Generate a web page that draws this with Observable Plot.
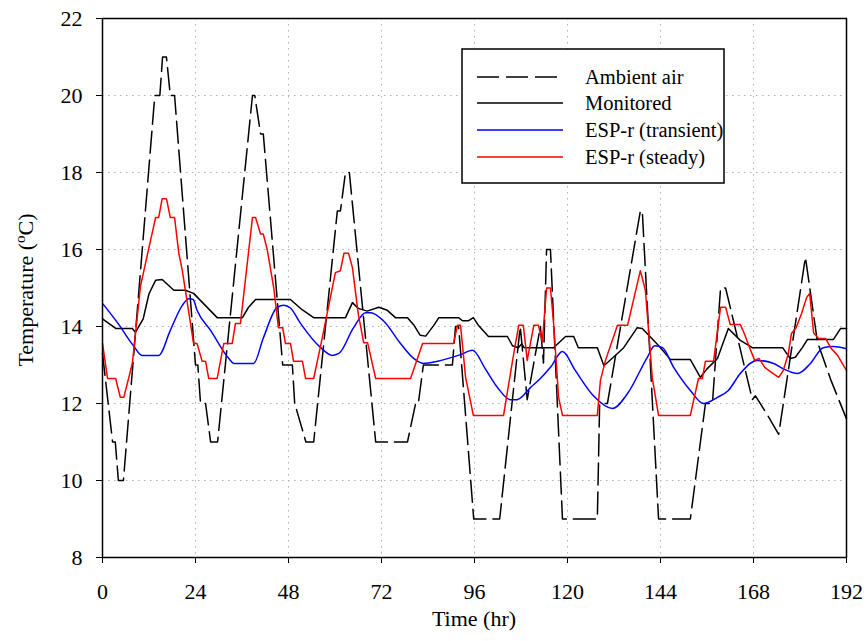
<!DOCTYPE html>
<html>
<head>
<meta charset="utf-8">
<script src="https://cdn.jsdelivr.net/npm/d3@7"></script>
<script src="https://cdn.jsdelivr.net/npm/@observablehq/plot@0.6"></script>
<style>
  html, body { margin: 0; padding: 0; background: #fff; }
  #chart svg { display: block; }
</style>
</head>
<body>
<div id="chart"></div>
<script>
// ---- data (hours, °C) ----
const xTicks = [0, 24, 48, 72, 96, 120, 144, 168, 192];
const yTicks = [8, 10, 12, 14, 16, 18, 20, 22];
const seriesNames = ["Ambient air", "Monitored", "ESP-r (transient)", "ESP-r (steady)"];

const ambientHr = [0, 2.6, 3.3, 4.1, 5.4, 13.5, 14.8, 15.5, 16.5, 17.5, 18.6, 24, 24.6, 25.3, 26.6, 27.9, 29.7, 38.7, 39.3, 40.8, 41.5, 46.5, 49, 49.6, 52.5, 54.5, 60.6, 61.4, 62.7, 63.7, 70.5, 78.7, 80.8, 81.5, 82.8, 90.3, 91.1, 91.9, 95.8, 102.5, 107.8, 109.6, 113, 113.8, 114.6, 115.6, 118.7, 127.7, 128.3, 130.3, 138.8, 139.3, 143.5, 151.7, 155.6, 157.4, 159.5, 160.8, 167.7, 168.5, 171.6, 174.5, 181.4, 184.5, 188, 192];
const ambientT  = [13.3, 11.0, 11.0, 10.0, 10.0, 20, 20, 21, 21, 20, 20, 13, 13, 12, 12, 11, 11, 20, 20, 19, 19, 13, 13, 12, 11, 11, 17, 17, 18, 18, 11, 11, 12, 12, 13, 13, 14, 14, 9, 9, 14, 12.1, 14, 13.05, 16, 16, 9, 9, 12, 12, 17, 17, 9, 9, 12, 12, 15, 15, 12.1, 12.2, 11.7, 11.2, 15.8, 13.6, 12.6, 11.6];

const monitoredHr = [0, 3.4, 7.7, 8.5, 10.5, 12, 13.7, 15.4, 18.4, 21.4, 23.5, 29.6, 36.1, 37.7, 39.5, 48.5, 51.6, 54.5, 62.7, 64.5, 66, 68.3, 71.3, 73.5, 75.6, 78.7, 80.4, 82, 83.4, 85.5, 86.8, 91.9, 92.9, 94.5, 95.7, 97, 99.6, 104.5, 105.8, 107.3, 108.2, 108.8, 116.4, 119.5, 121.6, 122.8, 127.7, 129.4, 132.9, 134.5, 138, 139.3, 143, 144, 146.6, 151.7, 154.3, 156, 158.7, 161.5, 164.6, 167.7, 175.5, 177.5, 178.8, 180.6, 181.9, 188.6, 190.5, 192];
const monitoredT  = [14.2, 13.95, 13.95, 13.85, 14.2, 14.85, 15.2, 15.22, 14.94, 14.94, 14.86, 14.23, 14.23, 14.5, 14.7, 14.7, 14.43, 14.23, 14.23, 14.62, 14.47, 14.4, 14.5, 14.42, 14.23, 14.23, 14.03, 13.77, 13.75, 14.03, 14.23, 14.23, 14.15, 14.15, 14.23, 14.03, 13.74, 13.74, 13.5, 13.45, 13.55, 13.45, 13.45, 13.74, 13.74, 13.45, 13.45, 12.98, 13.3, 13.45, 13.97, 13.95, 13.56, 13.45, 13.14, 13.14, 12.68, 12.9, 13.17, 13.95, 13.64, 13.45, 13.45, 13.17, 13.2, 13.45, 13.66, 13.66, 13.95, 13.95];

const transientHr = [0, 4, 8, 10.2, 14.5, 17.5, 20.6, 22.3, 23.4, 24.4, 27.9, 32.6, 33.9, 39, 41.5, 45.1, 46.8, 48.5, 51.1, 56.3, 59.3, 61, 64.8, 67.9, 69.2, 72.5, 76.9, 80.3, 82.8, 86.5, 92.4, 95.5, 98.8, 101.9, 105.3, 107, 110.5, 113, 115.6, 118.7, 122, 126.7, 131.6, 135.5, 140.6, 142.5, 144.5, 147.4, 151.7, 155.1, 158.7, 161.5, 164.6, 169, 173.2, 175.7, 179.4, 182.7, 186, 188.6, 192];
const transientT  = [14.6, 14.08, 13.5, 13.25, 13.25, 13.9, 14.55, 14.72, 14.7, 14.42, 13.9, 13.17, 13.04, 13.04, 13.7, 14.5, 14.55, 14.48, 14.08, 13.45, 13.25, 13.3, 13.97, 14.36, 14.36, 14.15, 13.56, 13.17, 13.04, 13.1, 13.27, 13.38, 12.9, 12.42, 12.1, 12.1, 12.42, 12.65, 12.94, 13.35, 12.86, 12.2, 11.87, 12.26, 13.2, 13.5, 13.45, 12.94, 12.34, 12.0, 12.16, 12.34, 12.78, 13.12, 13.04, 12.9, 12.78, 13.04, 13.45, 13.48, 13.42];

const steadyHr = [0, 1.3, 3.4, 4.6, 5.5, 7.7, 9.8, 13.7, 14.5, 15.4, 16.5, 17.5, 18.6, 19.7, 20.6, 23.5, 24.4, 25.7, 26.6, 27.4, 29.6, 31.3, 33.5, 34.3, 35.6, 38.7, 39.5, 40.8, 41.5, 42.5, 44.2, 45.4, 46.5, 47.2, 48.5, 49.3, 51.6, 52.4, 54.5, 56.7, 60.1, 61.4, 62.3, 63.5, 64.5, 66, 67.4, 68.4, 70.5, 79.5, 82.6, 90.6, 91.6, 92.4, 93.7, 95.7, 103.5, 105.8, 107.4, 108.6, 109.6, 111.3, 112.5, 113.5, 114.6, 115.6, 116.4, 117.7, 118.7, 127.7, 128.5, 129.8, 132.9, 135.5, 138.8, 140.1, 141.9, 143.5, 151.7, 153.8, 154.8, 155.6, 157.7, 159.5, 160.8, 162, 164.6, 165.7, 166.8, 168.3, 169.4, 170.9, 172.7, 174.5, 175.7, 177, 177.8, 179, 180.4, 181.7, 182.5, 183.5, 184.8, 186.6, 187.9, 189.7, 191.2, 192];
const steadyT  = [13.56, 12.65, 12.65, 12.16, 12.16, 13.04, 15.05, 16.83, 16.83, 17.32, 17.32, 16.83, 16.83, 15.9, 15.45, 13.56, 13.56, 13.1, 13.1, 12.65, 12.65, 13.56, 13.56, 14.08, 14.08, 16.83, 16.83, 16.4, 16.4, 16.0, 15.0, 13.97, 13.97, 13.56, 13.56, 13.1, 13.1, 12.65, 12.65, 13.7, 15.4, 15.45, 15.9, 15.9, 15.53, 14.33, 13.58, 13.58, 12.65, 12.65, 13.56, 13.56, 14.03, 14.03, 12.68, 11.69, 11.69, 13.1, 14.03, 14.03, 13.12, 14.03, 14.03, 13.6, 15.0, 15.0, 14.1, 12.16, 11.69, 11.69, 12.6, 13.12, 14.03, 14.03, 15.45, 14.94, 12.65, 11.69, 11.69, 12.65, 12.65, 13.1, 13.1, 14.5, 14.5, 14.05, 14.05, 13.8, 13.5, 13.12, 13.17, 12.94, 12.8, 12.68, 12.86, 13.3, 13.82, 13.97, 14.34, 14.75, 14.86, 13.84, 13.69, 13.69, 13.45, 13.25, 12.99, 12.86];

// ---- build tables ----
const toRows = (hs, ts) => hs.map((h, i) => ({h, t: ts[i]}));
const ambient = toRows(ambientHr, ambientT);
const monitored = toRows(monitoredHr, monitoredT);
const transient = toRows(transientHr, transientT);
const steady = toRows(steadyHr, steadyT);

const FONT = "'Liberation Serif', 'Times New Roman', serif";

const chart = Plot.plot({
  width: 868,
  height: 641,
  marginLeft: 102,
  marginRight: 22,
  marginTop: 18,
  marginBottom: 84,
  style: {fontFamily: FONT, fontSize: "22px", background: "#fff", color: "#000"},
  x: {domain: [0, 192], ticks: xTicks, tickSize: 6, tickPadding: 20, label: null},
  y: {domain: [8, 22], ticks: yTicks, tickSize: 6, tickPadding: 14, label: null},
  marks: [
    Plot.gridX(xTicks, {stroke: "#b0b0b0", strokeOpacity: 1, strokeDasharray: "1.5,4.5"}),
    Plot.gridY(yTicks, {stroke: "#b0b0b0", strokeOpacity: 1, strokeDasharray: "1.5,4.5"}),
    Plot.line(ambient, {x: "h", y: "t", stroke: "#000", strokeWidth: 1.5, strokeDasharray: "22,7"}),
    Plot.line(monitored, {x: "h", y: "t", stroke: "#000", strokeWidth: 1.5}),
    Plot.line(transient, {x: "h", y: "t", stroke: "#0000ff", strokeWidth: 1.5, curve: "monotone-x"}),
    Plot.line(steady, {x: "h", y: "t", stroke: "#ff0000", strokeWidth: 1.5}),
    Plot.frame({stroke: "#000", strokeWidth: 1.5}),
    Plot.axisX({ticks: xTicks, tickSize: 6, tickPadding: 20, fontSize: 22, label: null}),
    Plot.axisY({ticks: yTicks, tickSize: 6, tickPadding: 14, fontSize: 22, label: null})
  ]
});

document.getElementById("chart").appendChild(chart);

const svg = d3.select(chart);

// axis titles
svg.append("text")
  .attr("x", 474).attr("y", 626)
  .attr("text-anchor", "middle")
  .attr("font-family", FONT).attr("font-size", 22)
  .attr("fill", "#000")
  .text("Time (hr)");

const yl = svg.append("text")
  .attr("transform", "translate(33,290) rotate(-90)")
  .attr("text-anchor", "middle")
  .attr("font-family", FONT).attr("font-size", 22)
  .attr("fill", "#000");
yl.append("tspan").text("Temperature (");
yl.append("tspan").attr("font-size", 15).attr("dy", -8).text("o");
yl.append("tspan").attr("dy", 8).text("C)");

// legend
const lg = svg.append("g").attr("text-anchor", "start");
lg.append("rect")
  .attr("x", 462).attr("y", 49).attr("width", 262).attr("height", 134)
  .attr("fill", "#fff").attr("stroke", "#000").attr("stroke-width", 1.5);
const legendStyles = [
  {stroke: "#000", dash: "22,7"},
  {stroke: "#000", dash: null},
  {stroke: "#0000ff", dash: null},
  {stroke: "#ff0000", dash: null}
];
const rowY = [77, 103, 130, 157];
seriesNames.forEach((name, i) => {
  const ln = lg.append("line")
    .attr("x1", 477).attr("x2", 563)
    .attr("y1", rowY[i]).attr("y2", rowY[i])
    .attr("stroke", legendStyles[i].stroke).attr("stroke-width", 1.5);
  if (legendStyles[i].dash) ln.attr("stroke-dasharray", legendStyles[i].dash);
  lg.append("text")
    .attr("x", 585).attr("y", rowY[i]).attr("dy", "0.35em")
    .attr("text-anchor", "start")
    .attr("font-family", FONT).attr("font-size", 20.5).attr("fill", "#000")
    .text(name);
});
</script>
</body>
</html>
